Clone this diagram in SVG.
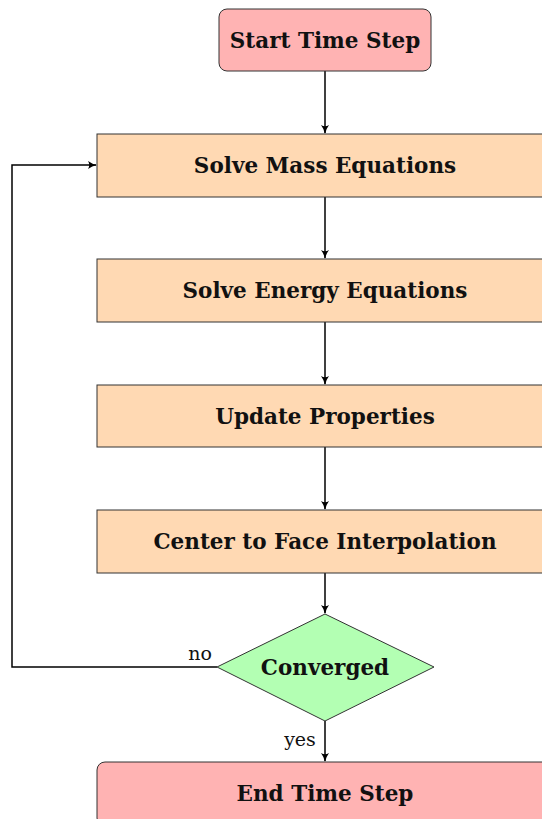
<svg xmlns="http://www.w3.org/2000/svg" width="542" height="819" viewBox="0 0 542 819">
<style>
.t{font-family:"DejaVu Serif","Liberation Serif",serif;font-weight:bold;font-size:21.5px;fill:#111;text-anchor:middle;dominant-baseline:central}
.l{font-family:"DejaVu Serif","Liberation Serif",serif;font-size:19px;fill:#111;text-anchor:middle}
.p{fill:#FFD9B3;stroke:#333;stroke-width:1}
.r{fill:#FFB3B3;stroke:#333;stroke-width:1}
.g{fill:#B3FFB3;stroke:#333;stroke-width:1}
.c{fill:none;stroke:#000;stroke-width:1.5;marker-end:url(#a)}
</style>
<defs>
<marker id="a" markerWidth="12" markerHeight="12" refX="9" refY="6" orient="auto" markerUnits="userSpaceOnUse">
<path d="M1,2 Q5,5 10,6 Q5,7 1,10 Q3.5,6 1,2Z" fill="#000"/>
</marker>
</defs>
<g id="connectors">
<path class="c" d="M325,71 V133"/>
<path class="c" d="M325,197 V258"/>
<path class="c" d="M325,322 V384"/>
<path class="c" d="M325,447 V509"/>
<path class="c" d="M325,573 V613"/>
<path class="c" d="M325,721 V761"/>
<path class="c" d="M217,667 H12 V165 H96"/>
<text class="l" x="200" y="660">no</text>
<text class="l" x="300" y="746">yes</text>
</g>
<g id="start"><rect class="r" x="219" y="9" width="212" height="62" rx="8"/><text class="t" x="325" y="40">Start Time Step</text></g>
<g id="mass"><rect class="p" x="97" y="134" width="456" height="63"/><text class="t" x="325" y="165">Solve Mass Equations</text></g>
<g id="energy"><rect class="p" x="97" y="259" width="456" height="63"/><text class="t" x="325" y="290">Solve Energy Equations</text></g>
<g id="update"><rect class="p" x="97" y="385" width="456" height="62"/><text class="t" x="325" y="416">Update Properties</text></g>
<g id="interp"><rect class="p" x="97" y="510" width="456" height="63"/><text class="t" x="325" y="541">Center to Face Interpolation</text></g>
<g id="converged"><polygon class="g" points="325,614 434,667 325,721 217,667"/><text class="t" x="325" y="667">Converged</text></g>
<g id="end"><rect class="r" x="97" y="762" width="456" height="64" rx="8"/><text class="t" x="325" y="793">End Time Step</text></g>
</svg>
